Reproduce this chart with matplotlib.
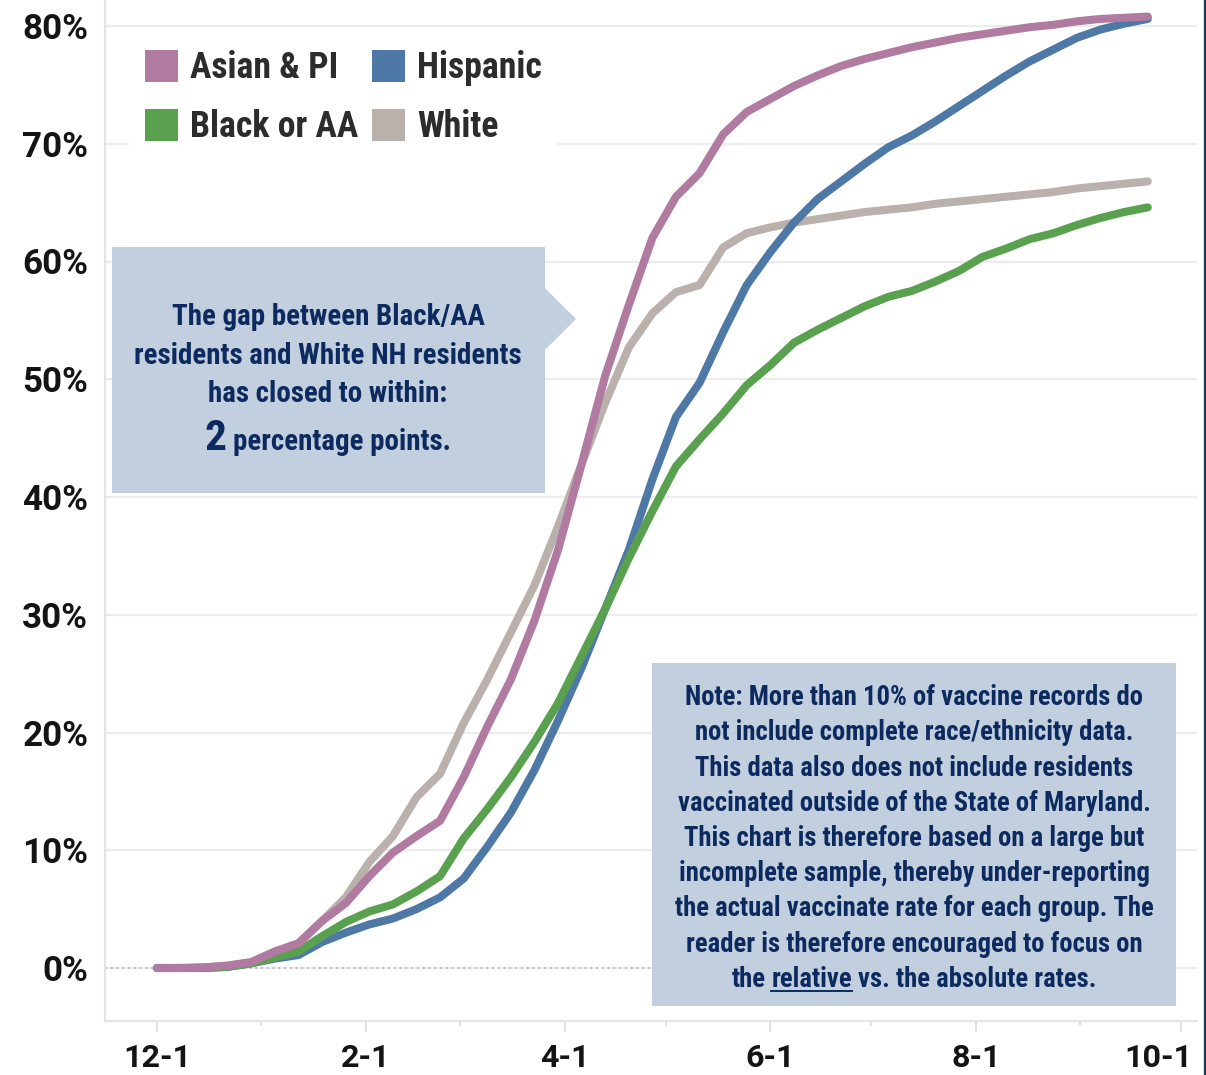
import matplotlib
matplotlib.use("Agg")
import pandas as pd
import matplotlib.pyplot as plt
import matplotlib.dates as mdates
import matplotlib.transforms as mtransforms
from matplotlib.patches import Patch, Polygon
from matplotlib.lines import Line2D
from matplotlib.font_manager import FontProperties, fontManager

# ---------------- data (percent of population vaccinated) ----------------
dates = pd.date_range("2020-12-01", periods=43, freq="7D")

asian_pi = [0, 0, 0.05, 0.2, 0.5, 1.4, 2.1, 4.0, 5.5, 7.8, 9.8, 11.2, 12.5, 16.2,
            20.5, 24.5, 29.5, 35.5, 42.8, 50.3, 56.3, 62.0, 65.5, 67.5, 70.8, 72.7,
            73.8, 74.9, 75.8, 76.6, 77.2, 77.7, 78.2, 78.6, 79.0, 79.3, 79.6, 79.9,
            80.1, 80.4, 80.6, 80.7, 80.8]
hispanic = [0, 0, 0, 0.1, 0.4, 0.8, 1.1, 2.2, 3.0, 3.7, 4.2, 5.0, 6.0, 7.6,
            10.3, 13.2, 16.8, 21.0, 25.5, 30.5, 35.5, 41.5, 46.8, 49.7, 54.0, 58.0,
            60.8, 63.3, 65.3, 66.8, 68.3, 69.7, 70.7, 71.9, 73.2, 74.5, 75.8, 77.0,
            78.0, 79.0, 79.7, 80.2, 80.6]
black_aa = [0, 0, 0, 0.1, 0.4, 0.9, 1.4, 2.7, 3.9, 4.8, 5.4, 6.5, 7.8, 11.0,
            13.5, 16.2, 19.2, 22.5, 26.5, 30.5, 34.8, 38.8, 42.6, 44.9, 47.1, 49.5,
            51.2, 53.1, 54.2, 55.2, 56.2, 57.0, 57.5, 58.3, 59.2, 60.4, 61.1, 61.9,
            62.4, 63.1, 63.7, 64.2, 64.6]
white = [0, 0, 0.05, 0.2, 0.5, 1.4, 2.1, 4.0, 6.0, 9.0, 11.2, 14.5, 16.5, 20.8,
         24.5, 28.5, 32.5, 37.5, 42.8, 48.0, 52.7, 55.6, 57.4, 58.0, 61.2, 62.4,
         62.9, 63.3, 63.6, 63.9, 64.2, 64.4, 64.6, 64.9, 65.1, 65.3, 65.5, 65.7,
         65.9, 66.2, 66.4, 66.6, 66.8]

series_names = ["Asian & PI", "Hispanic", "Black or AA", "White"]
series_values = [asian_pi, hispanic, black_aa, white]
series_colors = ["#b07aa1", "#4e79a7", "#59a14f", "#bab0ac"]
series_z = [6, 4, 5, 3]

y_ticks = [0, 10, 20, 30, 40, 50, 60, 70, 80]
y_tick_labels = [f"{v}%" for v in y_ticks]
x_tick_dates = ["2020-12-01", "2021-02-01", "2021-04-01", "2021-06-01", "2021-08-01", "2021-10-01"]
x_tick_labels = ["12-1", "2-1", "4-1", "6-1", "8-1", "10-1"]
x_minor_dates = ["2021-01-01", "2021-03-01", "2021-05-01", "2021-07-01", "2021-09-01"]

gap_lines = ["The gap between Black/AA",
             "residents and White NH residents",
             "has closed to within:"]
gap_number = "2"
gap_tail = "percentage points."
note_lines = ["Note: More than 10% of vaccine records do",
              "not include complete race/ethnicity data.",
              "This data also does not include residents",
              "vaccinated outside of the State of Maryland.",
              "This chart is therefore based on a large but",
              "incomplete sample, thereby under-reporting",
              "the actual vaccinate rate for each group. The",
              "reader is therefore encouraged to focus on"]
note_last = ["the", "relative", "vs. the absolute rates."]

# ---------------- fonts ----------------
names = {f.name for f in fontManager.ttflist}
COND = next((n for n in ["Liberation Sans Narrow", "Roboto Condensed",
                         "Open Sans Condensed", "DejaVu Sans"] if n in names), "DejaVu Sans")
STRETCH = "condensed"
TICKF = "Roboto" if "Roboto" in names else "DejaVu Sans"

W, H = 1206, 1075
fig = plt.figure(figsize=(W / 100, H / 100), dpi=100)
renderer = fig.canvas.get_renderer()
PX = mtransforms.Affine2D().scale(1 / W, -1 / H).translate(0, 1) + fig.transFigure


def fprop(size, family=COND, weight="bold", stretch=STRETCH):
    return FontProperties(family=family, size=size, weight=weight, stretch=stretch)


def tw(s, fp):
    w, h, d = renderer.get_text_width_height_descent(s, fp, ismath=False)
    return w


def fit(s, target, family=COND, weight="bold", stretch=STRETCH):
    return 20 * target / tw(s, fprop(20, family, weight, stretch))


# ---------------- axes ----------------
ax = fig.add_axes([105 / W, 1 - 1021 / H, (1197 - 105) / W, 1021 / H])
day0 = mdates.date2num(pd.Timestamp("2020-12-01"))
ax.set_xlim(day0 - 52 / 3.37, day0 + 1040 / 3.37)
ax.set_ylim(-(1021 - 968) / 11.775, 80 + 26 / 11.775)

for name, vals, col, z in zip(series_names, series_values, series_colors, series_z):
    ax.plot(dates, vals, color=col, lw=5.8, solid_capstyle="round",
            solid_joinstyle="round", zorder=z, label=name)

ax.axhline(0, xmin=0, xmax=(1115 - 105) / 1092, color="#b5b5b5", lw=1.3,
           ls=(0, (1, 2.2)), zorder=2)

ax.yaxis.grid(True, color="#ececec", lw=1.6)
ax.set_axisbelow(True)
for s in ["top", "right"]:
    ax.spines[s].set_visible(False)
for s in ["left", "bottom"]:
    ax.spines[s].set_color("#e4e4e4")
    ax.spines[s].set_linewidth(1.5)

fs_y = fit("80%", 66, TICKF, "bold", "normal")
fs_x = fit("12-1", 68, TICKF, "bold", "normal")
ax.set_yticks(y_ticks)
ax.set_yticklabels(y_tick_labels, fontproperties=fprop(fs_y, TICKF, "bold", "normal"),
                   color="#141414")
ax.tick_params(axis="y", length=0, pad=12)

ax.set_xticks([mdates.date2num(pd.Timestamp(d)) for d in x_tick_dates])
ax.set_xticklabels(x_tick_labels, fontproperties=fprop(fs_x, TICKF, "bold", "normal"),
                   color="#141414")
ax.set_xticks([mdates.date2num(pd.Timestamp(d)) for d in x_minor_dates], minor=True)
ax.tick_params(axis="x", which="major", length=8, width=1.2, color="#dcdcdc", pad=8)
ax.tick_params(axis="x", which="minor", length=3.5, width=1.2, color="#dcdcdc")
last = ax.xaxis.get_major_ticks()[-1].label1
last.set_transform(last.get_transform() + mtransforms.ScaledTranslation(-0.23, 0, fig.dpi_scale_trans))

# ---------------- legend ----------------
fs_leg = fit("Asian & PI", 148)
fspx = fs_leg * 100 / 72
order = [0, 2, 1, 3]
handles = [Patch(facecolor=series_colors[i], edgecolor="none") for i in order]
labels = [series_names[i] for i in order]
leg = ax.legend(handles, labels, ncol=2, loc="upper left",
                bbox_to_anchor=(129 / W, 1 - 34 / H), bbox_transform=fig.transFigure,
                frameon=True, fancybox=False, framealpha=1, facecolor="white",
                edgecolor="none", prop=fprop(fs_leg), handlelength=33 / fspx,
                handleheight=35 / fspx, handletextpad=12 / fspx, columnspacing=14 / fspx,
                labelspacing=23 / fspx, borderpad=16 / fspx, borderaxespad=0,
                labelcolor="#2c2c2c")
leg.set_zorder(10)

# ---------------- annotation boxes ----------------
BOX_FC = "#bdccdd"
NAVY = "#0d2a5e"
gap_poly = Polygon([(112, 247), (545, 247), (545, 288), (576, 319), (545, 350),
                    (545, 493), (112, 493)], closed=True, transform=PX,
                   facecolor=BOX_FC, edgecolor="none", alpha=0.93, zorder=20)
fig.add_artist(gap_poly)
note_poly = Polygon([(652, 663), (1176, 663), (1176, 1006), (652, 1006)], closed=True,
                    transform=PX, facecolor=BOX_FC, edgecolor="none", alpha=0.93, zorder=20)
fig.add_artist(note_poly)

fs_gap = fit(gap_lines[1], 386)
fp_gap = fprop(fs_gap)
gap_cx = 328
for s, yb in zip(gap_lines, [325, 364, 402]):
    fig.text(gap_cx, yb, s, transform=PX, ha="center", va="baseline",
             fontproperties=fp_gap, color=NAVY, zorder=21)
fp_big = fprop(fs_gap * 1.5)
w_num = tw(gap_number, fp_big)
w_tail = tw(gap_tail, fp_gap)
space = tw("a a", fp_gap) - 2 * tw("a", fp_gap)
x0 = gap_cx - (w_num + space + w_tail) / 2
fig.text(x0, 450, gap_number, transform=PX, ha="left", va="baseline",
         fontproperties=fp_big, color=NAVY, zorder=21)
fig.text(x0 + w_num + space, 450, gap_tail, transform=PX, ha="left", va="baseline",
         fontproperties=fp_gap, color=NAVY, zorder=21)

fs_note = fit(note_lines[5], 469)
fp_note = fprop(fs_note)
note_cx = 914
for i, s in enumerate(note_lines):
    fig.text(note_cx, 705 + i * 35.25, s, transform=PX, ha="center", va="baseline",
             fontproperties=fp_note, color=NAVY, zorder=21)
full = " ".join(note_last)
yb = 705 + 8 * 35.25
wf = tw(full, fp_note)
xs = note_cx - wf / 2
x_rel = xs + tw("the r", fp_note) - tw("r", fp_note)
x_vs = xs + tw("the relative v", fp_note) - tw("v", fp_note)
w_rel = tw("relative", fp_note)
for s, xx in zip(note_last, [xs, x_rel, x_vs]):
    fig.text(xx, yb, s, transform=PX, ha="left", va="baseline",
             fontproperties=fp_note, color=NAVY, zorder=21)
fig.add_artist(Line2D([x_rel, x_rel + w_rel], [yb + 3.5, yb + 3.5], transform=PX,
                      color=NAVY, lw=1.4, zorder=21))

# right border
fig.add_artist(Line2D([1204.5, 1204.5], [0, H], transform=PX, color="#1d3b58", lw=2.4, zorder=30))

fig.savefig("out.png", dpi=100)
